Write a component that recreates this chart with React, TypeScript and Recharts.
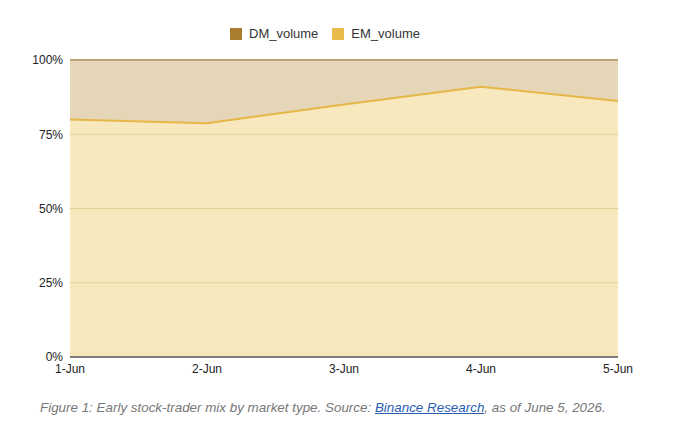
import React from "react";
import {
  AreaChart,
  Area,
  XAxis,
  YAxis,
  ReferenceLine,
  Legend,
} from "recharts";

const categories = ["1-Jun", "2-Jun", "3-Jun", "4-Jun", "5-Jun"];
const emVolume = [80, 78.7, 85, 91, 86.2];
const dmVolume = [20, 21.3, 15, 9, 13.8];
const yTicks = [0, 25, 50, 75, 100];
const gridValues = [25, 50, 75];

const data = categories.map((day, i) => ({
  day,
  EM_volume: emVolume[i],
  DM_volume: dmVolume[i],
}));

const FONT = "'Liberation Sans', Arial, Helvetica, sans-serif";

const legendItems = [
  { name: "DM_volume", color: "#a97d2f" },
  { name: "EM_volume", color: "#e8b94b" },
];

const renderLegend = () => (
  <div
    style={{
      display: "flex",
      justifyContent: "center",
      alignItems: "center",
      fontFamily: FONT,
      fontSize: 13,
      color: "#333",
    }}
  >
    {legendItems.map((it, i) => (
      <div
        key={it.name}
        style={{ display: "flex", alignItems: "center", marginLeft: i ? 14 : 0 }}
      >
        <span
          style={{
            display: "inline-block",
            width: 12,
            height: 12,
            background: it.color,
            marginRight: 7,
          }}
        />
        <span>{it.name}</span>
      </div>
    ))}
  </div>
);

export default function App() {
  return (
    <div
      style={{
        position: "absolute",
        left: 0,
        top: 0,
        width: 680,
        height: 432,
        background: "#fff",
        fontFamily: FONT,
      }}
    >
      <AreaChart
        width={680}
        height={380}
        data={data}
        margin={{ top: 60, right: 62, bottom: 3, left: 8 }}
        reverseStackOrder
      >
        <XAxis
          dataKey="day"
          axisLine={{ stroke: "#555", strokeWidth: 1.3 }}
          tickLine={false}
          tickSize={0}
          tickMargin={7}
          height={20}
          interval={0}
          tick={{ fill: "#222", fontSize: 12, fontFamily: FONT }}
        />
        <YAxis
          domain={[0, 100]}
          ticks={yTicks}
          tickFormatter={(v) => `${v}%`}
          axisLine={false}
          tickLine={false}
          tickSize={0}
          tickMargin={7}
          width={62}
          tick={{ fill: "#222", fontSize: 12, fontFamily: FONT }}
        />
        <Area
          type="linear"
          dataKey="DM_volume"
          stackId="1"
          stroke="#bba47a"
          strokeWidth={1.8}
          fill="#e5d6b7"
          fillOpacity={1}
          isAnimationActive={false}
        />
        <Area
          type="linear"
          dataKey="EM_volume"
          stackId="1"
          stroke="#e6b748"
          strokeWidth={2}
          fill="#f7e9bd"
          fillOpacity={1}
          isAnimationActive={false}
        />
        {gridValues.map((v) => (
          <ReferenceLine key={v} y={v} stroke="#e4cf99" strokeWidth={1} />
        ))}
        <Legend
          layout="horizontal"
          verticalAlign="middle"
          align="center"
          content={renderLegend}
          wrapperStyle={{ top: 26, left: -15, width: 680 }}
        />
      </AreaChart>
      <div
        style={{
          position: "absolute",
          left: 40,
          top: 400,
          fontFamily: FONT,
          fontSize: 13.4,
          fontStyle: "italic",
          color: "#777",
          whiteSpace: "nowrap",
        }}
      >
        Figure 1: Early stock-trader mix by market type. Source:{" "}
        <a href="#" style={{ color: "#2a5db0", textDecoration: "underline" }}>
          Binance Research
        </a>
        , as of June 5, 2026.
      </div>
    </div>
  );
}
